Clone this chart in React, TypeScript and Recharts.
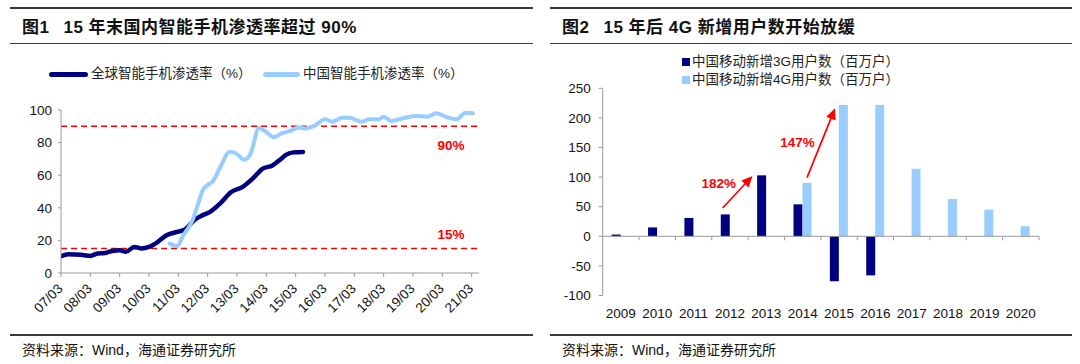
import React from 'react';
import { LineChart, Line, XAxis, YAxis, ReferenceLine, BarChart, Bar, ReferenceDot } from 'recharts';

const FONT = '"Liberation Sans", Arial, "Noto Sans CJK SC", sans-serif';

// ---------- Figure 1 data ----------
const fig1Title = '15 年末国内智能手机渗透率超过 90%';
const globalName = '全球智能手机渗透率（%）';
const chinaName = '中国智能手机渗透率（%）';
const xTickMonths = [0, 12, 24, 36, 48, 60, 72, 84, 96, 108, 120, 132, 144, 156, 168];
const xTickLabels = ['07/03', '08/03', '09/03', '10/03', '11/03', '12/03', '13/03', '14/03', '15/03', '16/03', '17/03', '18/03', '19/03', '20/03', '21/03'];
const yTicks1 = [0, 20, 40, 60, 80, 100];
const globalMonths = [0, 3, 6, 9, 12, 15, 18, 21, 24, 26.5, 30, 33, 36, 39.5, 43, 47, 50.5, 55, 58, 61, 65, 69.5, 74.5, 78.5, 82.5, 86.5, 90, 92, 95, 99];
const globalValues = [10.3, 11.5, 11.3, 11, 10.5, 12, 12.3, 13.5, 14, 13, 16, 15, 16, 19, 23, 25, 26.5, 33, 35.5, 37.5, 42.5, 49.5, 53, 58, 64, 66, 70, 72.5, 74, 74.3];
const chinaMonths = [44.5, 47.5, 50, 54, 56, 58, 60, 62, 65.5, 69, 71.5, 75, 77.5, 81, 84, 87, 90, 94, 97, 100, 103.8, 108, 111, 115, 118, 123, 126, 130, 132, 135, 140, 145, 150, 153.5, 157.6, 161.7, 165.5, 168.5];
const chinaValues = [18, 16.5, 23, 33, 42, 50.8, 54, 56, 66, 74.4, 73.5, 69.5, 73, 89, 86.5, 83.3, 85.5, 87.3, 89.3, 88.7, 90.5, 94.3, 92.8, 95.2, 95.3, 92.8, 94.3, 94.2, 95.9, 93.3, 94.9, 96.3, 95.9, 98, 95.7, 94.3, 98.3, 98];
const refLevels = [90, 15];
const refLabels = ['90%', '15%'];

// ---------- Figure 2 data ----------
const fig2Title = '15 年后 4G 新增用户数开始放缓';
const name3G = '中国移动新增3G用户数（百万户）';
const name4G = '中国移动新增4G用户数（百万户）';
const years = ['2009', '2010', '2011', '2012', '2013', '2014', '2015', '2016', '2017', '2018', '2019', '2020'];
const new3G: (number | null)[] = [3, 15, 31, 37, 103, 54, -76, -66, null, null, null, null];
const new4G: (number | null)[] = [null, null, null, null, null, 90, 222, 222, 114, 63, 45, 17];
const yTicks2 = [-100, -50, 0, 50, 100, 150, 200, 250];
const growthLabels = ['182%', '147%'];

const sourceText = '资料来源：Wind，海通证券研究所';

const globalData = globalMonths.map((m, i) => ({ m, v: globalValues[i] }));
const chinaData = chinaMonths.map((m, i) => ({ m, v: chinaValues[i] }));
const barData = years.map((year, i) => ({ year, idx: i + 0.5, g3: new3G[i], g4: new4G[i] }));

const NAVY = '#000080';
const LIGHT = '#99CCFF';
const RED = '#FF0000';
const AXIS = '#999999';
const TXT = '#111111';

const RotTick = (props: any) => {
  const { x, y, payload, index } = props;
  const idx = xTickMonths.indexOf(payload.value);
  const label = idx >= 0 ? xTickLabels[idx] : '';
  return (
    <g transform={`translate(${x + 2.5},${y + 10.5})`} key={index}>
      <text transform="rotate(-45)" textAnchor="end" fontSize={13.5} fill={TXT} fontFamily={FONT}>
        {label}
      </text>
    </g>
  );
};

const YearTick = (props: any) => {
  const { x, y, payload } = props;
  return (
    <text x={x} y={y + 22} textAnchor="middle" fontSize={13.5} fill={TXT} fontFamily={FONT}>
      {payload.value}
    </text>
  );
};

const ZeroAxis = (p: any) => {
  const { x1, y1, x2, y2 } = p;
  const n = years.length;
  const step = (x2 - x1) / n;
  return (
    <g>
      <line x1={x1} y1={y1} x2={x2} y2={y2} stroke={AXIS} strokeWidth={1} />
      {Array.from({ length: n }, (_, i) => (
        <line key={i} x1={x1 + step * (i + 1)} x2={x1 + step * (i + 1)} y1={y1} y2={y1 + 4} stroke={AXIS} strokeWidth={1} />
      ))}
    </g>
  );
};

const Arrow = (p: any) => {
  const { x1, y1, x2, y2 } = p;
  const dx = x2 - x1;
  const dy = y2 - y1;
  const len = Math.hypot(dx, dy) || 1;
  const ux = dx / len;
  const uy = dy / len;
  const hl = 11;
  const hw = 5;
  const bx = x2 - ux * hl;
  const by = y2 - uy * hl;
  return (
    <g>
      <line x1={x1} y1={y1} x2={bx + ux * 1} y2={by + uy * 1} stroke={RED} strokeWidth={1.7} />
      <polygon points={`${x2},${y2} ${bx - uy * hw},${by + ux * hw} ${bx + uy * hw},${by - ux * hw}`} fill={RED} />
    </g>
  );
};

const pctLabel = (text: string) => (p: any) => (
  <text x={p.cx} y={p.cy} dy="0.36em" textAnchor="middle" fontSize={13.5} fontWeight="bold" fill={RED} fontFamily={FONT}>
    {text}
  </text>
);

const refLabel = (text: string, below: boolean) => (p: any) => {
  const vb = p.viewBox || {};
  const x = (vb.x || 0) + (vb.width || 0) * 0.933;
  const y = (vb.y || 0) + (below ? 19 : -14);
  return (
    <text x={x} y={y} dy="0.36em" textAnchor="middle" fontSize={13.5} fontWeight="bold" fill={RED} fontFamily={FONT}>
      {text}
    </text>
  );
};

const Rule = ({ left, width, top, h = 1.5 }: any) => (
  <div style={{ position: 'absolute', left, top, width, height: h, background: '#3a3a3a' }} />
);

const Title = ({ left, num, text }: any) => (
  <div
    style={{
      position: 'absolute',
      left,
      top: 18,
      fontSize: 17,
      lineHeight: '20px',
      fontWeight: 'bold',
      color: '#111',
      whiteSpace: 'pre',
      letterSpacing: 0.5,
      fontFamily: FONT,
    }}
  >
    <span>{num}</span>
    <span style={{ marginLeft: 14 }}>{text}</span>
  </div>
);

const Source = ({ left }: any) => (
  <div style={{ position: 'absolute', left, top: 341, fontSize: 14, lineHeight: '18px', color: '#111', fontFamily: FONT, whiteSpace: 'pre' }}>
    {sourceText}
  </div>
);

const legendText: React.CSSProperties = { position: 'absolute', fontSize: 13.5, lineHeight: '18px', color: '#222', whiteSpace: 'pre' };

export default function App() {
  return (
    <div style={{ position: 'absolute', left: 0, top: 0, width: 1080, height: 364, background: '#fff', overflow: 'hidden', fontFamily: FONT }}>
      {/* Left panel frame */}
      <Rule left={10} width={523} top={7} h={2} />
      <Title left={22} num="图1" text={fig1Title} />
      <Rule left={10} width={523} top={42.5} />
      <Rule left={10} width={523} top={334} />
      <Source left={22} />

      {/* Right panel frame */}
      <Rule left={550} width={522} top={7} h={2} />
      <Title left={562} num="图2" text={fig2Title} />
      <Rule left={550} width={522} top={42.5} />
      <Rule left={550} width={522} top={334} />
      <Source left={562} />

      {/* Left legend */}
      <div style={{ position: 'absolute', left: 49, top: 71.5, width: 39, height: 5, background: NAVY, borderRadius: 2.5 }} />
      <div style={{ ...legendText, left: 91, top: 65 }}>{globalName}</div>
      <div style={{ position: 'absolute', left: 263, top: 71.5, width: 37, height: 5, background: LIGHT, borderRadius: 2.5 }} />
      <div style={{ ...legendText, left: 303, top: 65 }}>{chinaName}</div>

      {/* Left chart */}
      <div style={{ position: 'absolute', left: 0, top: 95 }}>
        <LineChart width={540} height={240} margin={{ top: 15, right: 61, bottom: 12, left: 21 }}>
          <XAxis
            type="number"
            dataKey="m"
            domain={[0, 171]}
            ticks={xTickMonths}
            interval={0}
            tick={<RotTick />}
            tickSize={4}
            stroke={AXIS}
            height={50}
            allowDataOverflow
          />
          <YAxis
            type="number"
            domain={[0, 100]}
            ticks={yTicks1}
            interval={0}
            width={40}
            tickSize={3}
            tickMargin={6}
            stroke={AXIS}
            tick={{ fill: TXT, fontSize: 13.5, fontFamily: FONT }}
          />
          {refLevels.map((lv, i) => (
            <ReferenceLine
              key={lv}
              y={lv}
              stroke={RED}
              strokeWidth={1.5}
              strokeDasharray="6 4"
              label={refLabel(refLabels[i], i === 0)}
            />
          ))}
          <Line
            data={globalData}
            dataKey="v"
            type="monotone"
            stroke={NAVY}
            strokeWidth={4.5}
            dot={false}
            isAnimationActive={false}
            strokeLinecap="round"
          />
          <Line
            data={chinaData}
            dataKey="v"
            type="monotone"
            stroke={LIGHT}
            strokeWidth={4}
            dot={false}
            isAnimationActive={false}
            strokeLinecap="round"
          />
        </LineChart>
      </div>

      {/* Right legend */}
      <div style={{ position: 'absolute', left: 682, top: 58, width: 8, height: 8, background: NAVY }} />
      <div style={{ ...legendText, left: 692, top: 53 }}>{name3G}</div>
      <div style={{ position: 'absolute', left: 682, top: 76, width: 8, height: 8, background: LIGHT }} />
      <div style={{ ...legendText, left: 692, top: 71 }}>{name4G}</div>

      {/* Right chart */}
      <div style={{ position: 'absolute', left: 540, top: 80 }}>
        <BarChart width={540} height={270} data={barData} margin={{ top: 8.3, right: 41, bottom: 24.5, left: 17.7 }} barGap={0} barSize={9}>
          <XAxis dataKey="year" axisLine={false} tickLine={false} tickSize={0} tickMargin={0} height={30} interval={0} tick={<YearTick />} />
          <XAxis
            xAxisId="n"
            dataKey="idx"
            type="number"
            scale="linear"
            domain={[0, 12]}
            allowDataOverflow
            padding={{ left: 0, right: 0 }}
            hide
          />
          <YAxis
            type="number"
            domain={[-100, 250]}
            ticks={yTicks2}
            interval={0}
            width={45}
            tickSize={4}
            tickMargin={8}
            stroke={AXIS}
            tick={{ fill: TXT, fontSize: 13.5, fontFamily: FONT }}
          />
          <Bar dataKey="g3" fill={NAVY} isAnimationActive={false} />
          <Bar dataKey="g4" fill={LIGHT} isAnimationActive={false} />
          <ReferenceLine y={0} stroke={AXIS} shape={ZeroAxis} />
          <ReferenceLine xAxisId="n" segment={[{ x: 3.3, y: 47.8 }, { x: 4.12, y: 101.9 }]} shape={Arrow} />
          <ReferenceLine xAxisId="n" segment={[{ x: 5.62, y: 99.2 }, { x: 6.39, y: 216.2 }]} shape={Arrow} />
          <ReferenceDot xAxisId="n" x={3.195} y={90} r={0} shape={pctLabel(growthLabels[0])} />
          <ReferenceDot xAxisId="n" x={5.36} y={159.8} r={0} shape={pctLabel(growthLabels[1])} />
        </BarChart>
      </div>
    </div>
  );
}
